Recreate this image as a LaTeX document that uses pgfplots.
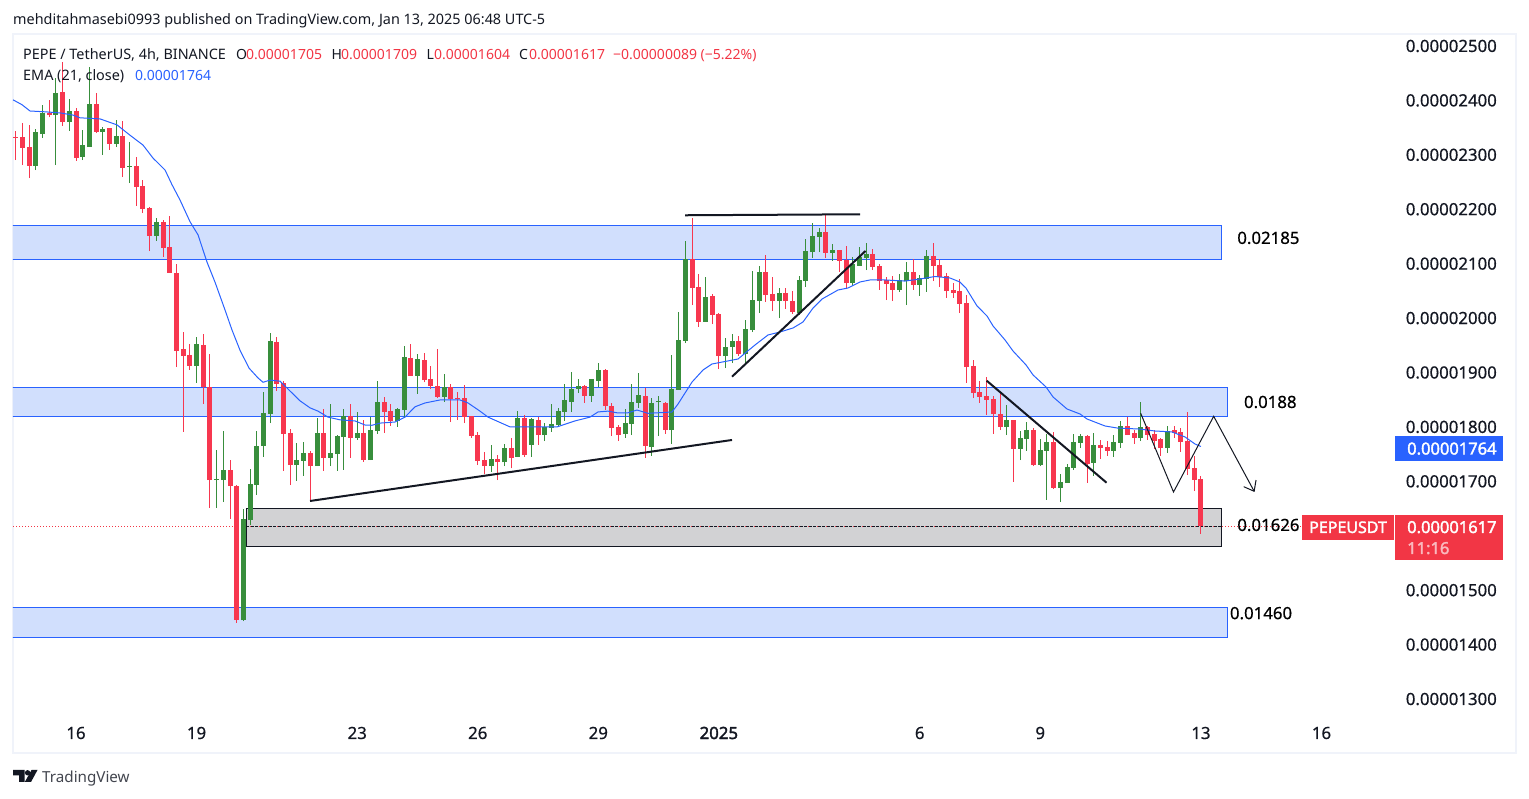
\documentclass[border=0pt]{standalone}
\usepackage{fontspec}
\setmainfont{Noto Sans}
\newfontfamily\fatf[FakeBold=2]{Noto Sans}
\newfontfamily\midf[FakeBold=0.5]{Noto Sans}
\usepackage{pgfplots}
\usepackage{pgfplotstable}
\pgfplotsset{compat=1.18}
\usetikzlibrary{arrows.meta}
\definecolor{tvred}{HTML}{F7374F}
\definecolor{tvlab}{HTML}{F23645}
\definecolor{tvgreen}{HTML}{388E3C}
\definecolor{tvblue}{HTML}{2962FF}
\definecolor{zone}{HTML}{D1DFFD}
\definecolor{greyz}{HTML}{D2D2D4}
\definecolor{ink}{HTML}{131722}
\definecolor{frm}{HTML}{F0F3FA}
\pgfplotstableread{
i o h l c
-9 2333 2344 2290 2331
-8 2333 2358 2281 2313
-7 2314 2355 2257 2280
-4 2376 2401 2369 2373
-2 2416 2471 2353 2360
0 2381 2386 2289 2294
3 2393 2413 2340 2342
5 2349 2350 2309 2320
7 2335 2362 2259 2276
9 2280 2296 2206 2241
10 2243 2254 2193 2200
11 2202 2204 2123 2151
13 2177 2180 2112 2129
14 2131 2188 2083 2083
15 2083 2099 1910 1940
16 1943 1974 1791 1930
17 1932 1952 1905 1912
19 1951 1971 1842 1873
20 1873 1934 1651 1702
23 1721 1739 1631 1691
24 1691 1693 1440 1445
30 1956 1965 1866 1879
31 1881 1884 1719 1787
32 1789 1796 1693 1730
35 1752 1756 1664 1728
37 1789 1833 1719 1743
41 1820 1842 1743 1780
43 1789 1813 1736 1739
46 1846 1855 1789 1827
47 1829 1842 1802 1811
50 1927 1952 1894 1894
52 1923 1936 1882 1886
53 1888 1912 1870 1875
54 1875 1943 1853 1855
56 1873 1879 1809 1851
57 1853 1864 1813 1851
58 1853 1877 1807 1818
59 1820 1820 1780 1783
60 1785 1791 1730 1737
61 1739 1754 1713 1728
63 1741 1748 1702 1735
65 1761 1780 1724 1743
67 1816 1822 1745 1748
69 1813 1818 1767 1785
76 1875 1877 1844 1857
79 1905 1906 1831 1838
80 1838 1844 1783 1798
81 1800 1804 1774 1785
85 1857 1872 1743 1765
88 1844 1846 1787 1794
92 2109 2184 2024 2055
93 2057 2081 1984 1993
95 2041 2044 1989 2006
96 2008 2009 1906 1930
99 1958 1967 1930 1934
103 2085 2116 2030 2042
104 2044 2075 2013 2031
106 2046 2055 2017 2031
107 2031 2050 2008 2011
112 2158 2189 2110 2120
114 2125 2125 2085 2105
115 2107 2132 2053 2064
119 2118 2127 2088 2094
120 2096 2099 2052 2068
121 2070 2075 2033 2063
122 2064 2077 2031 2052
125 2085 2109 2052 2061
128 2114 2138 2068 2096
129 2098 2109 2057 2075
130 2077 2083 2037 2050
131 2052 2065 2037 2046
132 2050 2072 2009 2026
133 2028 2042 1881 1910
134 1912 1923 1853 1862
135 1864 1884 1844 1855
136 1857 1892 1822 1850
137 1851 1857 1787 1824
138 1824 1860 1794 1800
140 1813 1813 1699 1760
143 1794 1798 1728 1730
146 1772 1791 1686 1688
151 1783 1785 1697 1732
153 1767 1776 1741 1761
154 1763 1774 1747 1756
157 1802 1818 1785 1785
158 1789 1794 1769 1780
160 1800 1802 1776 1785
161 1787 1794 1760 1774
162 1778 1780 1747 1761
164 1794 1802 1780 1789
165 1791 1798 1754 1772
166 1774 1827 1712 1723
167 1725 1747 1682 1703
168 1705 1709 1604 1617
}\redcandles
\pgfplotstableread{
i o h l c
-6 2280 2348 2272 2341
-5 2338 2392 2331 2376
-3 2373 2441 2281 2414
-1 2360 2403 2344 2381
1 2296 2346 2290 2318
2 2314 2462 2314 2393
4 2342 2351 2300 2347
6 2320 2364 2314 2335
8 2278 2324 2248 2280
12 2151 2184 2142 2177
18 1912 1965 1881 1952
21 1702 1758 1651 1704
22 1702 1793 1662 1721
25 1445 1650 1443 1631
26 1629 1723 1620 1695
27 1693 1793 1675 1765
28 1765 1864 1745 1826
29 1824 1973 1807 1958
33 1730 1770 1701 1739
34 1737 1772 1710 1752
36 1728 1816 1728 1789
38 1743 1842 1728 1752
39 1750 1785 1719 1783
40 1781 1833 1721 1820
42 1780 1827 1776 1789
44 1739 1818 1739 1794
45 1793 1884 1787 1846
48 1811 1835 1800 1833
49 1831 1949 1818 1929
51 1894 1934 1861 1925
55 1855 1897 1846 1873
62 1728 1767 1717 1741
64 1735 1769 1728 1761
66 1745 1829 1745 1816
68 1767 1816 1745 1815
70 1785 1807 1774 1800
71 1798 1842 1791 1805
72 1804 1835 1800 1829
73 1827 1879 1811 1850
74 1846 1901 1827 1870
75 1870 1888 1862 1875
77 1857 1888 1846 1888
78 1884 1917 1873 1905
82 1787 1833 1780 1807
83 1805 1879 1785 1846
84 1844 1899 1835 1859
86 1763 1853 1747 1844
87 1845 1857 1783 1847
89 1794 1932 1769 1870
90 1868 2011 1868 1960
91 1958 2142 1954 2109
94 1993 2075 1993 2039
97 1930 1963 1908 1947
98 1947 1971 1917 1958
100 1934 1996 1917 1980
101 1978 2086 1974 2033
102 2031 2096 2009 2085
105 2031 2055 2000 2046
108 2009 2077 2006 2070
109 2068 2145 2057 2123
110 2121 2175 2110 2151
111 2149 2166 2121 2158
113 2120 2136 2105 2125
116 2064 2112 2059 2099
117 2096 2131 2096 2112
118 2110 2138 2088 2118
123 2052 2081 2048 2070
124 2068 2103 2024 2085
126 2061 2079 2041 2074
127 2072 2125 2048 2114
139 1800 1840 1785 1813
141 1760 1793 1739 1780
142 1778 1809 1756 1794
144 1730 1778 1728 1758
145 1756 1787 1666 1772
147 1688 1714 1662 1699
148 1697 1732 1697 1726
149 1725 1787 1721 1772
150 1771 1787 1761 1783
152 1734 1789 1710 1767
155 1756 1785 1745 1772
156 1771 1811 1761 1802
159 1780 1846 1774 1800
163 1761 1802 1752 1793
}\greencandles
\pgfplotstableread{
i p
-9.4 2401
-8.06 2392
-6.87 2380.5
-4.63 2379
-2.39 2377
-0.45 2373
0.6 2368
3.58 2366
6.12 2355
8.06 2336
10 2318
11.5 2294
13.3 2272
14.34 2245
15.53 2217
17.03 2177
18.22 2153
19.56 2103
20.76 2066
22.25 2015
23.3 1978
24.49 1941
25.84 1908
27.18 1890
27.93 1882
28.97 1886
30.47 1884
31.96 1866
33.45 1848
34.95 1835
36.14 1829
37.63 1818
39.43 1813
41.67 1811
43.16 1803.5
44.2 1803
45.4 1807
47.64 1809
49.13 1818
50.63 1837
52.12 1844
54.36 1849.5
57.35 1849.5
58.54 1844
60.33 1829
61.53 1818
64.82 1800
67.8 1800
71.83 1800
74.52 1811
76.76 1818
77.96 1827.5
79.45 1829
80.94 1825.6
82.44 1826
83.78 1831
85.42 1825
89 1827.4
89.9 1842
92 1882.5
93.64 1904.6
94.98 1915.6
98.87 1924.8
101.4 1950.5
103.35 1969
105.14 1974.4
107.08 1981.8
108.57 1992.8
110.07 2018.5
111.41 2035
113.8 2051.6
115.3 2055.3
117.08 2066.3
118.58 2070
120.82 2070
123.8 2068
126.05 2071.8
128.29 2076.4
130.53 2073.6
132 2066.3
132.9 2055.3
134.56 2022.2
136.05 2003.8
136.95 1985.5
138.74 1959.7
139.93 1939.5
141.88 1913.8
142.92 1895.5
144.86 1873.4
145.91 1855
148 1832.9
149.94 1823.7
150.99 1814.5
153.67 1801.7
155.47 1798
158.9 1796
161.14 1792.5
163.68 1790.7
165.62 1781.5
167.11 1768.6
168 1764
}\ema
\pgfplotsset{
  wick/.style={draw=none,forget plot,error bars/.cd,y dir=plus,y explicit,error mark=none,
    error bar style={line width=1pt,draw=#1}},
  body/.style={draw=none,forget plot,error bars/.cd,y dir=plus,y explicit,error mark=none,
    error bar style={line width=5pt,draw=#1}},
}
\newcommand\txt[4]{\node[anchor=base west,inner sep=0pt,text=#3] at ({#1pt},{798pt-#2pt}) {#4};}
\newcommand\lf{\fontsize{14.4pt}{16pt}\selectfont}
\newcommand\nf{\fontsize{14pt}{16pt}\selectfont}
\newcommand\bigf{\fontsize{16.8pt}{19pt}\selectfont\midf}
\begin{document}
\begin{tikzpicture}[x=1pt,y=1pt]
\useasboundingbox (0,0) rectangle (1529pt,798pt);
\begin{axis}[
  at={(13pt,45pt)},anchor=south west,
  scale only axis,width=1503pt,height=719pt,
  xmin=-9.409,xmax=215.05,ymin=1200.8,ymax=2522,
  axis line style={draw=frm,line width=2pt},
  major tick length=0pt,
  xtick={0,18,42,60,78,96,126,144,168,186},
  xticklabels={16,19,23,26,29,{\fatf 2025},6,9,13,16},
  xticklabel style={anchor=center,yshift=20pt,font=\bigf,text=ink},
  ytick={1300,1400,1500,1700,1800,1900,2000,2100,2200,2300,2400,2500},
  yticklabels={0.00001300,0.00001400,0.00001500,0.00001700,0.00001800,0.00001900,0.00002000,0.00002100,0.00002200,0.00002300,0.00002400,0.00002500},
  yticklabel pos=right,
  yticklabel style={anchor=east,xshift=-19pt,inner sep=0pt,font=\bigf,text=ink},
  clip=true,
]
% zones
\addplot[fill=zone,draw=tvblue,line width=1pt,forget plot] coordinates {(-12,2170.5)(171.1,2170.5)(171.1,2107.6)(-12,2107.6)} --cycle;
\addplot[fill=zone,draw=tvblue,line width=1pt,forget plot] coordinates {(-12,1873.3)(172.0,1873.3)(172.0,1819.5)(-12,1819.5)} --cycle;
\addplot[fill=zone,draw=tvblue,line width=1pt,forget plot] coordinates {(-12,1468.5)(172.0,1468.5)(172.0,1413)(-12,1413)} --cycle;
\addplot[fill=greyz,draw=ink,line width=1pt,forget plot] coordinates {(25.4,1650.4)(171.0,1650.4)(171.0,1580.2)(25.4,1580.2)} --cycle;
\addplot[tvlab,dotted,line width=1pt,forget plot] coordinates {(-9.4,1617)(183.1,1617)};
\addplot[ink,dash pattern=on 3pt off 1.5pt,line width=0.8pt,forget plot] coordinates {(25.4,1616.5)(171.0,1616.5)};
% candles
\addplot[wick=tvred] table[x=i,y=l,y error plus expr=\thisrow{h}-\thisrow{l}] {\redcandles};
\addplot[wick=tvgreen] table[x=i,y=l,y error plus expr=\thisrow{h}-\thisrow{l}] {\greencandles};
\addplot[body=tvred] table[x=i,y=c,y error plus expr=\thisrow{o}-\thisrow{c}] {\redcandles};
\addplot[body=tvgreen] table[x=i,y=o,y error plus expr=\thisrow{c}-\thisrow{o}] {\greencandles};
% EMA
\addplot[tvblue,line width=1pt,forget plot] table[x=i,y=p] {\ema};
% drawn lines
\addplot[ink,line width=2pt,forget plot] coordinates {(34.95,1663.9)(97.97,1776)};
\addplot[ink,line width=2pt,forget plot] coordinates {(90.95,2188.9)(117.1,2190.7)};
\addplot[ink,line width=2pt,forget plot] coordinates {(97.97,1892.3)(117.9,2123.3)};
\addplot[ink,line width=2pt,forget plot] coordinates {(136,1884.9)(153.9,1697.5)};
\addplot[ink,line width=1pt,forget plot,-{Straight Barb[length=9pt,width=14pt]}] coordinates {(159,1825)(163.9,1680.4)(169.9,1819.5)(176,1680.4)};
% level labels
\node[anchor=west,inner sep=0pt,font=\bigf,text=black] at (axis cs:173.4,2147.3) {0.02185};
\node[anchor=west,inner sep=0pt,font=\bigf,text=black] at (axis cs:174.4,1845.8) {0.0188};
\node[anchor=west,inner sep=0pt,font=\bigf,text=black] at (axis cs:173.4,1619.8) {0.01626};
\node[anchor=west,inner sep=0pt,font=\bigf,text=black] at (axis cs:172.3,1457.8) {0.01460};
\end{axis}
% header and legend
\lf
\txt{13}{25}{ink}{mehditahmasebi0993 published on TradingView.com, Jan 13, 2025 06:48 UTC-5}
\txt{23}{60}{ink}{PEPE / TetherUS, 4h, BINANCE}
\nf
\txt{236}{60}{ink}{O}\txt{246}{60}{tvlab}{0.00001705}
\txt{331.5}{60}{ink}{H}\txt{341}{60}{tvlab}{0.00001709}
\txt{426.5}{60}{ink}{L}\txt{434}{60}{tvlab}{0.00001604}
\txt{519}{60}{ink}{C}\txt{529}{60}{tvlab}{0.00001617}
\txt{613}{60}{tvlab}{−0.00000089 (−5.22\%)}
\lf
\txt{23}{81}{ink}{EMA (21, close)}
\nf
\txt{135}{81}{tvblue}{0.00001764}
% price tags
\fill[tvblue] (1395pt,{798pt-436pt}) rectangle (1503pt,{798pt-461pt});
\fill[tvlab] (1302pt,{798pt-515pt}) rectangle (1394pt,{798pt-540pt});
\fill[tvlab] (1395pt,{798pt-515pt}) rectangle (1503pt,{798pt-560pt});
\fontsize{16.5pt}{19pt}\fatf
\txt{1407}{454.5}{white}{0.00001764}
\txt{1407}{533}{white}{0.00001617}
\txt{1407}{554}{white!65!tvlab}{11:16}
\fontsize{16pt}{19pt}\fatf
\txt{1309}{533}{white}{PEPEUSDT}
% TradingView mark
\fill[ink] (13pt,{798pt-770pt}) -- (24.5pt,{798pt-770pt}) -- (24.5pt,{798pt-782pt}) -- (19pt,{798pt-782pt}) -- (19pt,{798pt-775.5pt}) -- (13pt,{798pt-775.5pt}) -- cycle;
\fill[ink] (27.6pt,{798pt-772.8pt}) circle (2.7pt);
\fill[ink] (31.5pt,{798pt-770pt}) -- (37.5pt,{798pt-770pt}) -- (31pt,{798pt-782pt}) -- (24.8pt,{798pt-782pt}) -- cycle;
\fontsize{15.2pt}{17pt}\selectfont\normalfont
\txt{42}{782}{ink!80}{TradingView}
\end{tikzpicture}
\end{document}
